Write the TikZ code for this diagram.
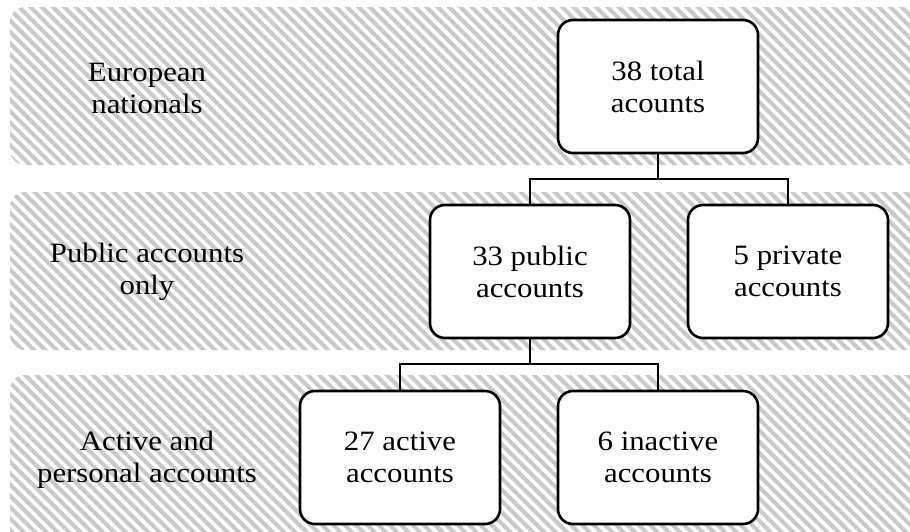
\documentclass[tikz,border=0pt]{standalone}
\usepackage{fontspec}
\setmainfont{Liberation Serif}[FakeStretch=1.1]
\usetikzlibrary{patterns.meta}
\tikzset{
  band/.style={rounded corners=15pt, pattern={Lines[angle=-45,distance=8pt,line width=4pt]}, pattern color=black!21},
  acct/.style={draw=black, line width=2.6pt, fill=white, rounded corners=15pt, minimum width=200pt, minimum height=133pt, align=center, inner sep=0pt, font=\fontsize{28}{32}\selectfont},
  lbl/.style={align=center, font=\fontsize{28}{32}\selectfont},
  conn/.style={draw=black, line width=2.6pt}
}
\begin{document}
\begin{tikzpicture}[x=1pt,y=-1pt]
\useasboundingbox (0,0) rectangle (910,531);
\clip (0,0) rectangle (910,531);
\path[band] (10,7) rectangle (940,165);
\path[band] (10,192) rectangle (940,350);
\path[band] (10,375) rectangle (940,560);
\node[lbl] (l1) at (147,88) {European\\nationals};
\node[lbl] (l2) at (147,272) {Public accounts\\only};
\node[lbl] (l3) at (147,460) {Active and\\personal accounts};
\node[acct] (a) at (658,86.5) {38 total\\acounts};
\node[acct] (b) at (530,271.5) {33 public\\accounts};
\node[acct] (c) at (788,271.5) {5 private\\accounts};
\node[acct] (d) at (400,457.5) {27 active\\accounts};
\node[acct] (e) at (658,457.5) {6 inactive\\accounts};
\coordinate (j1) at (658,179);
\coordinate (j2) at (530,364);
\draw[conn] (a.south) -- (j1);
\draw[conn] (b.north) |- (j1) -| (c.north);
\draw[conn] (b.south) -- (j2);
\draw[conn] (d.north) |- (j2) -| (e.north);
\end{tikzpicture}
\end{document}
